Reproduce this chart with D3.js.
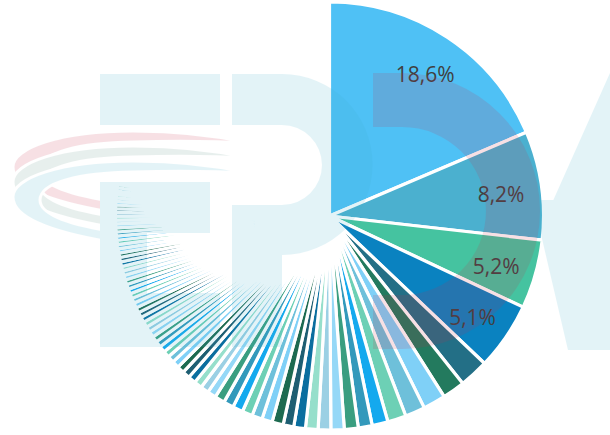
<!DOCTYPE html>
<html><head><meta charset="utf-8">
<script src="https://cdn.jsdelivr.net/npm/d3@7"></script>
<style>html,body{margin:0;padding:0;background:#fff}svg{display:block}</style>
</head><body>
<svg id="chart" width="610" height="435"></svg>
<script>
// Shares (%), in drawing order (clockwise from 12 o'clock)
const shares = [18.6, 8.2, 5.2, 5.1,
  2.2, 1.7, 1.7, 1.5, 1.4, 1.2, 1.05, 1.05, 1.0, 0.95, 0.95,
  0.88, 0.8, 0.85, 0.78, 0.78, 0.78, 0.78, 0.76, 0.75,
  0.66, 0.62, 0.6, 0.58, 0.56, 0.55, 0.53, 0.51, 0.49, 0.48, 0.46,
  0.45, 0.44, 0.43, 0.42, 0.41, 0.40, 0.39, 0.39, 0.38, 0.37, 0.37, 0.36, 0.36, 0.35, 0.35, 0.34, 0.34, 0.34, 0.33, 0.33, 0.32, 0.32,
  0.31, 0.31, 0.30, 0.30, 0.29, 0.29, 0.28, 0.28, 0.27, 0.27, 0.26, 0.26, 0.25, 0.25, 0.24, 0.24, 0.24, 0.23, 0.23];
// remainder: many very small shares, too thin to be seen between the white borders
const restShare = 21.71;
const categories = shares.map((_, i) => "Pay " + (i + 1)).concat(["Diğer"]);
const palette = ["#4fc1f5","#4bb0cf","#45c3a0","#0a82c0","#236f86","#237a5e",
  "#7fd0f7","#6ec0da","#6dd0b5","#14a9ee","#3399bb","#3a9e80",
  "#95d8f7","#9bd0e4","#96dfcb","#0a6e9f","#1e5e72","#1d6a50"];
const labelMin = 5;

const data = categories.map((c, i) => ({name: c, v: i < shares.length ? shares[i] : restShare, i, rest: i >= shares.length}));
const total = d3.sum(data, d => d.v);
const colorOf = i => i < palette.length ? palette[i] : palette[6 + (i - 6) % 12];

const svg = d3.select("#chart");
const cx = 329.5, cy = 216, R = 214;
const g = svg.append("g").attr("transform", `translate(${cx},${cy})`);
const pie = d3.pie().sort(null).value(d => d.v);
const arcs = pie(data);
const arc = d3.arc().innerRadius(0).outerRadius(R);
g.selectAll("path.slice").data(arcs).join("path")
  .attr("class", "slice")
  .attr("d", arc)
  .attr("fill", d => d.data.rest ? "none" : colorOf(d.data.i))
  .attr("stroke", d => d.data.rest ? "none" : "#fff")
  .attr("stroke-width", 3.2)
  .attr("stroke-linejoin", "round");

// watermark (EPDK logo), drawn faintly over the chart
const wm = svg.append("g").attr("opacity", 0.14);
function ring(dy) {
  const p = d3.path();
  p.moveTo(251, 143 + dy);
  p.bezierCurveTo(200, 132 + dy, 160, 131 + dy, 133, 131 + dy);
  p.bezierCurveTo(60, 131 + dy, 13, 148 + dy, 13, 167 + dy);
  p.bezierCurveTo(13, 185 + dy, 40, 200 + dy, 110, 212 + dy);
  p.lineTo(110, 201 + dy);
  p.bezierCurveTo(60, 193 + dy, 40, 182 + dy, 40, 170 + dy);
  p.bezierCurveTo(40, 152 + dy, 80, 143 + dy, 133, 142 + dy);
  p.bezierCurveTo(170, 141 + dy, 210, 141 + dy, 251, 143 + dy);
  p.closePath();
  return p.toString();
}
wm.append("path").attr("d", ring(0)).attr("fill", "#c82d4b").attr("stroke", "#fff").attr("stroke-width", 3);
wm.append("path").attr("d", ring(15)).attr("fill", "#5e9486").attr("stroke", "#fff").attr("stroke-width", 3);
wm.append("path").attr("d", ring(30)).attr("fill", "#3eb0cd").attr("stroke", "#fff").attr("stroke-width", 3);
const cyan = "#3eb0cd";
wm.append("path").attr("fill", cyan).attr("d",
  "M100,74h120v51h-120z M100,182h110v51h-110z M100,232h47v62h-47z M100,293h120v54h-120z");
wm.append("path").attr("fill", cyan).attr("fill-rule", "evenodd").attr("d",
  "M232,74L282,74A90.5,90.5 0 0 1 282,255L282,347L232,347Z M232,125L282,125A40,40 0 0 1 282,205L232,205Z");
wm.append("path").attr("fill", cyan).attr("d",
  "M540,230L610,73L700,73L620,230Z M533,200L600,200L660,350L568,350Z");
wm.append("path").attr("fill", "#c82d4b").attr("fill-rule", "evenodd").attr("d",
  "M373,73L402,73A138,138 0 0 1 402,349L373,349Z M373,127L402,127A84,84 0 0 1 402,295L373,295Z");

// labels
const labelArc = d3.arc().innerRadius(R * 0.81).outerRadius(R * 0.81);
const fmt = v => d3.format(".1f")(v).replace(".", ",") + "%";
g.selectAll("text.lbl").data(arcs.filter(d => !d.data.rest && d.data.v / total * 100 >= labelMin)).join("text")
  .attr("class", "lbl")
  .attr("transform", d => `translate(${labelArc.centroid(d)})`)
  .attr("text-anchor", "middle")
  .attr("dominant-baseline", "central")
  .attr("dy", 3)
  .attr("font-family", "'Open Sans', sans-serif")
  .attr("font-size", 21)
  .attr("fill", "#404040")
  .text(d => fmt(d.data.v / total * 100));
</script>
</body></html>
